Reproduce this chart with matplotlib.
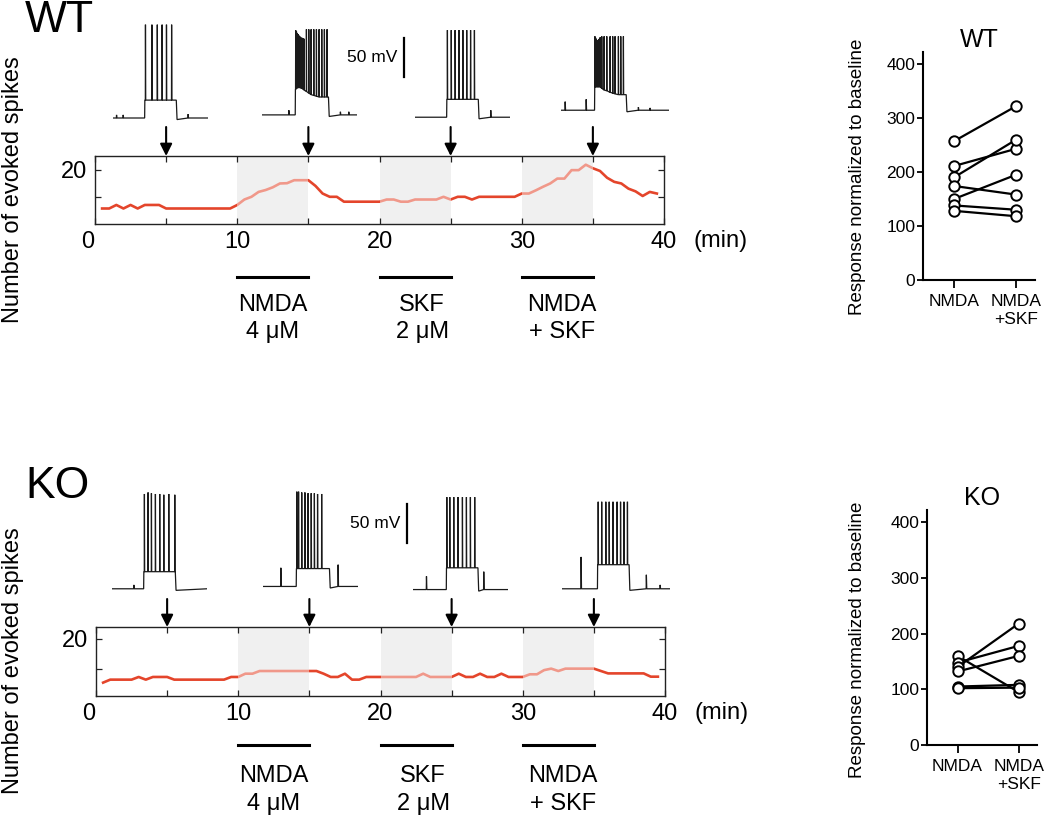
import numpy as np
import matplotlib
matplotlib.use('Agg')
import matplotlib.pyplot as plt
from matplotlib import transforms

plt.rcParams['font.family'] = ['Liberation Sans', 'DejaVu Sans']

W, H = 1050, 816

# ---------------- time-course data (evoked spikes per sweep) ----------------
TIME = np.arange(0.5, 40.0, 0.5)
WT_COUNT = [5.7, 5.7, 7, 5.7, 7, 5.7, 7, 7, 7, 5.7,
            5.7, 5.7, 5.7, 5.7, 5.7, 5.7, 5.7, 5.7, 5.7, 7,
            9, 10, 11.8, 12.5, 13.5, 14.9, 15, 16.1, 16.1, 16.1,
            14, 11.2, 10, 10, 8.2, 8.2, 8.2, 8.2, 8.2, 8.2,
            9, 9, 8.2, 8.2, 9, 9, 9, 9, 10, 9,
            10, 10, 9, 10, 10, 10, 10, 10, 10, 11.2,
            11.2, 12.4, 13.7, 14.9, 16.7, 16.7, 19.8, 19.8, 21.8, 20.5,
            19.5, 17, 15.5, 14.9, 13, 12, 10.3, 11.8, 11.2]
KO_COUNT = [5.3, 6.3, 6.3, 6.3, 6.3, 7.2, 6.3, 7.2, 7.2, 7.2,
            6.3, 6.3, 6.3, 6.3, 6.3, 6.3, 6.3, 6.3, 7.2, 7.2,
            8.3, 8.3, 9.2, 9.2, 9.2, 9.2, 9.2, 9.2, 9.2, 9.2,
            9.2, 8.3, 7.2, 7.2, 8.3, 6.3, 6.3, 7.2, 7.2, 7.2,
            7.2, 7.2, 7.2, 7.2, 7.2, 8.3, 7.2, 7.2, 7.2, 7.2,
            8.3, 7.2, 7.2, 8.3, 7.2, 7.2, 8.3, 7.2, 7.2, 7.2,
            8.1, 8.1, 9.5, 10, 9.2, 10, 10, 10, 10, 10,
            9.2, 8.4, 8.4, 8.4, 8.4, 8.4, 8.4, 7.3, 7.3]

DRUG_START = [10, 20, 30]
DRUG_END = [15, 25, 35]
DRUG_LINE1 = ['NMDA', 'SKF', 'NMDA']
DRUG_LINE2 = ['4 \u03bcM', '2 \u03bcM', '+ SKF']
DRUG_LABEL_X = [12.5, 23.0, 32.8]
SAMPLE_TIMES = [5, 15, 25, 35]
XTICKS = [0, 10, 20, 30, 40]

# ---------------- summary data (response normalised to baseline, %) ----------------
CATEGORIES = ['NMDA', 'NMDA\n+SKF']
WT_NMDA = [257, 211, 190, 174, 150, 138, 128]
WT_NMDA_SKF = [322, 243, 260, 158, 195, 130, 118]
KO_NMDA = [160, 148, 140, 132, 105, 102]
KO_NMDA_SKF = [95, 178, 218, 160, 108, 103]

# ---------------- example voltage traces (ms, mV) ----------------
WT1_SPIKES = [511, 613, 698, 774, 843, 924]
WT1_PEAKS = [49] * 6
WT1_TROUGHS = [-48] * 6
WT1_SPONT_T = [53, 158, 1184]
WT1_SPONT_V = [-67, -67, -66]

WT2_SPIKES = [530, 543, 556, 569, 582, 595, 608, 621, 634, 647, 660,
              700, 737, 774, 816, 858, 900, 942, 984, 1026]
WT2_PEAKS = [42, 40, 38, 37, 35, 34, 33, 32, 32, 31, 31,
             43, 43, 43, 43, 43, 43, 43, 43, 43]
WT2_TROUGHS = [-34, -33, -32, -32, -32, -32, -32, -33, -33, -34, -35,
               -37, -39, -41, -42, -43, -44, -44, -44, -44]
WT2_SPONT_T = [421, 1236, 1368]
WT2_SPONT_V = [-61, -63, -63]

WT3_SPIKES = [510, 571, 632, 693, 754, 815, 876, 937]
WT3_PEAKS = [42] * 8
WT3_TROUGHS = [-47] * 8
WT3_SPONT_T = [1194]
WT3_SPONT_V = [-61]

WT4_SPIKES = [534, 546, 558, 570, 582, 594, 606, 618,
              642, 679, 721, 774, 815, 852, 905, 942, 984]
WT4_PEAKS = [34, 32, 30, 29, 29, 30, 31, 33,
             34, 34, 34, 34, 34, 34, 34, 34, 34]
WT4_TROUGHS = [-31, -31, -31, -31, -31, -31, -31, -31,
               -33, -35, -36, -38, -39, -40, -41, -41, -41]
WT4_SPONT_T = [63, 395, 1220, 1404]
WT4_SPONT_V = [-50, -47, -57, -58]

KO1_SPIKES = [510, 568, 621, 684, 752, 816, 895, 990]
KO1_PEAKS = [50, 52, 51, 50, 50, 49, 50, 49]
KO1_TROUGHS = [-50] * 8
KO1_SPONT_T = [342]
KO1_SPONT_V = [-67]

KO2_SPIKES = [532, 560, 610, 660, 710, 760, 810, 860, 925]
KO2_PEAKS = [53, 53, 52, 52, 51, 51, 51, 50, 50]
KO2_TROUGHS = [-46] * 9
KO2_SPONT_T = [279, 1184]
KO2_SPONT_V = [-45, -41]

KO3_SPIKES = [532, 579, 642, 710, 779, 842, 905, 973]
KO3_PEAKS = [46] * 8
KO3_TROUGHS = [-45] * 8
KO3_SPONT_T = [210, 1115]
KO3_SPONT_V = [-56, -50]

KO4_SPIKES = [570, 625, 690, 744, 804, 869, 923, 977, 1032]
KO4_PEAKS = [40] * 9
KO4_TROUGHS = [-41] * 9
KO4_SPONT_T = [299, 1330, 1548]
KO4_SPONT_V = [-31, -54, -67]

# duration, step on, step off, baseline
WT_STEP = [(1500, 500, 1000, -71), (1500, 525, 1050, -67), (1500, 500, 1000, -70), (1700, 530, 1030, -61)]
KO_STEP = [(1500, 500, 1000, -72), (1500, 525, 1050, -69), (1500, 526, 1026, -73), (1700, 560, 1060, -72)]
SCALE_MV = 50

RED = '#e4452b'
BAND = '#e5e5e5'


def px_rect(left, top, width, height):
    return [left / W, 1 - (top + height) / H, width / W, height / H]


def trace_xy(step, spikes, peaks, troughs, spont_t, spont_v):
    dur, on, off, base = step
    xs, ys = [0], [base]
    for t, v in zip(spont_t, spont_v):
        if t < on:
            xs += [t, t + 3, t + 9]
            ys += [base, v, base]
    xs += [on, on + 3]
    ys += [base, troughs[0]]
    for s, p, tr in zip(spikes, peaks, troughs):
        xs += [s, s + 2, s + 6]
        ys += [tr, p, tr]
    xs += [off, off + 12]
    ys += [troughs[-1], base - 2]
    for t, v in zip(spont_t, spont_v):
        if t > off:
            xs += [t, t + 3, t + 9]
            ys += [base, v, base]
    xs += [dur]
    ys += [base]
    return xs, ys


fig = plt.figure(figsize=(W / 100, H / 100), dpi=100)

MS_PER_PX = 15.8


def draw_traces(lefts, top, height, ylim, steps, trace_sets, bar_x, bar_bottom):
    for left, step, ts in zip(lefts, steps, trace_sets):
        dur = step[0]
        ax = fig.add_axes(px_rect(left, top, dur / MS_PER_PX, height))
        xs, ys = trace_xy(step, *ts)
        ax.plot(xs, ys, color='#1a1a1a', lw=0.9, solid_joinstyle='miter')
        ax.set_xlim(0, dur)
        ax.set_ylim(*ylim)
        ax.axis('off')
    sax = fig.add_axes(px_rect(bar_x - 10, top, 20, height))
    sax.plot([0.5, 0.5], [bar_bottom, bar_bottom + SCALE_MV], color='black', lw=1.6)
    sax.text(0.5 - 0.35, bar_bottom + SCALE_MV / 2, '50 mV', ha='right', va='center', fontsize=12.5)
    sax.set_xlim(0, 1)
    sax.set_ylim(*ylim)
    sax.axis('off')


def draw_timecourse(rect_px, counts, ylim, arrow_len_px, ylab_center, bar_y, l1_y, l2_y):
    left, top, width, height = rect_px
    ax = fig.add_axes(px_rect(left, top, width, height))
    for lo, hi in zip(DRUG_START, DRUG_END):
        ax.axvspan(lo, hi, color=BAND, lw=0, zorder=0.5)
    ax.plot(TIME, counts, color=RED, lw=1.9, zorder=2.0)
    for lo, hi in zip(DRUG_START, DRUG_END):
        ax.axvspan(lo, hi, color='white', alpha=0.45, lw=0, zorder=2.1)
    ax.set_axisbelow(False)
    ax.set_xlim(0, 40)
    ax.set_ylim(*ylim)
    ax.set_xticks(XTICKS)
    ax.set_xticks(SAMPLE_TIMES, minor=True)
    ax.set_yticks([10, 20])
    ax.set_yticklabels(['', '20'])
    ax.tick_params(which='both', direction='in', top=True, right=True, length=4,
                   width=0.9, colors='#222222', labelsize=17, labelcolor='black')
    ax.tick_params(axis='x', pad=5)
    ax.tick_params(axis='y', pad=6)
    first = ax.get_xticklabels()[0]
    first.set_transform(first.get_transform() +
                        transforms.ScaledTranslation(-7 / 100, 0, fig.dpi_scale_trans))
    for s in ax.spines.values():
        s.set_linewidth(1.0)
        s.set_color('#222222')
    ax.text(44.0, -0.25, '(min)', transform=transforms.blended_transform_factory(ax.transData, ax.transAxes),
            ha='center', va='center', fontsize=17)
    # arrows marking sample traces
    for t in SAMPLE_TIMES:
        ax.annotate('', xy=(t, 1.0), xycoords=('data', 'axes fraction'),
                    xytext=(t, 1.0 + arrow_len_px / height), textcoords=('data', 'axes fraction'),
                    arrowprops=dict(arrowstyle='-|>', color='black', lw=1.5, mutation_scale=18,
                                    shrinkA=0, shrinkB=0))
    trans = transforms.blended_transform_factory(ax.transData, fig.transFigure)
    for lo, hi, a, b, xc in zip(DRUG_START, DRUG_END, DRUG_LINE1, DRUG_LINE2, DRUG_LABEL_X):
        ax.plot([lo, hi], [1 - bar_y / H] * 2, color='black', lw=2.2, transform=trans, clip_on=False)
        ax.text(xc, 1 - l1_y / H, a, transform=trans, ha='center', va='center', fontsize=17)
        ax.text(xc, 1 - l2_y / H, b, transform=trans, ha='center', va='center', fontsize=17)
    fig.text(13 / W, 1 - ylab_center / H, 'Number of evoked spikes', rotation=90,
             ha='center', va='center', fontsize=17)
    return ax


def draw_summary(rect_px, nmda, nmda_skf, title, ylab_center):
    ax = fig.add_axes(px_rect(*rect_px))
    for a, b in zip(nmda, nmda_skf):
        ax.plot([0, 1], [a, b], color='black', lw=1.6, marker='o', ms=7.5,
                mfc='white', mec='black', mew=1.4, clip_on=False, zorder=3)
    ax.set_xlim(-0.5, 1.3)
    ax.set_ylim(0, 422)
    ax.set_yticks([0, 100, 200, 300, 400])
    ax.set_xticks([0, 1])
    ax.set_xticklabels(CATEGORIES, linespacing=1.25)
    ax.spines['top'].set_visible(False)
    ax.spines['right'].set_visible(False)
    for s in ('left', 'bottom'):
        ax.spines[s].set_linewidth(1.5)
    ax.tick_params(axis='y', length=4, width=1.3, pad=1.5, labelsize=12.5)
    ax.tick_params(axis='x', length=6, width=1.3, pad=4, labelsize=12.5)
    ax.set_title(title, fontsize=18, pad=2)
    fig.text(858 / W, 1 - ylab_center / H, 'Response normalized to baseline', rotation=90,
             ha='center', va='center', fontsize=13.5)


WT_TRACES = [(WT1_SPIKES, WT1_PEAKS, WT1_TROUGHS, WT1_SPONT_T, WT1_SPONT_V),
             (WT2_SPIKES, WT2_PEAKS, WT2_TROUGHS, WT2_SPONT_T, WT2_SPONT_V),
             (WT3_SPIKES, WT3_PEAKS, WT3_TROUGHS, WT3_SPONT_T, WT3_SPONT_V),
             (WT4_SPIKES, WT4_PEAKS, WT4_TROUGHS, WT4_SPONT_T, WT4_SPONT_V)]
KO_TRACES = [(KO1_SPIKES, KO1_PEAKS, KO1_TROUGHS, KO1_SPONT_T, KO1_SPONT_V),
             (KO2_SPIKES, KO2_PEAKS, KO2_TROUGHS, KO2_SPONT_T, KO2_SPONT_V),
             (KO3_SPIKES, KO3_PEAKS, KO3_TROUGHS, KO3_SPONT_T, KO3_SPONT_V),
             (KO4_SPIKES, KO4_PEAKS, KO4_TROUGHS, KO4_SPONT_T, KO4_SPONT_V)]

# ---- WT row ----
fig.text(25 / W, 1 - 0 / H, 'WT', fontsize=32, ha='left', va='top')
draw_traces([113, 262, 415, 561], 20, 105, (-80, 55), WT_STEP, WT_TRACES, 404, -18)
draw_timecourse((95, 156, 569, 68), WT_COUNT, (0, 25), 29, 190, 277, 305, 332)
draw_summary((923, 52, 112, 228), WT_NMDA, WT_NMDA_SKF, 'WT', 177)

# ---- KO row ----
fig.text(25 / W, 1 - 466 / H, 'KO', fontsize=32, ha='left', va='top')
draw_traces([112, 263, 413, 562], 480, 115, (-80, 68), KO_STEP, KO_TRACES, 407, -13)
draw_timecourse((96, 627, 569, 69), KO_COUNT, (0.8, 24), 28, 661, 745, 776, 804)
draw_summary((927, 510, 110, 235), KO_NMDA, KO_NMDA_SKF, 'KO', 640)

fig.savefig('out.png', dpi=100)
